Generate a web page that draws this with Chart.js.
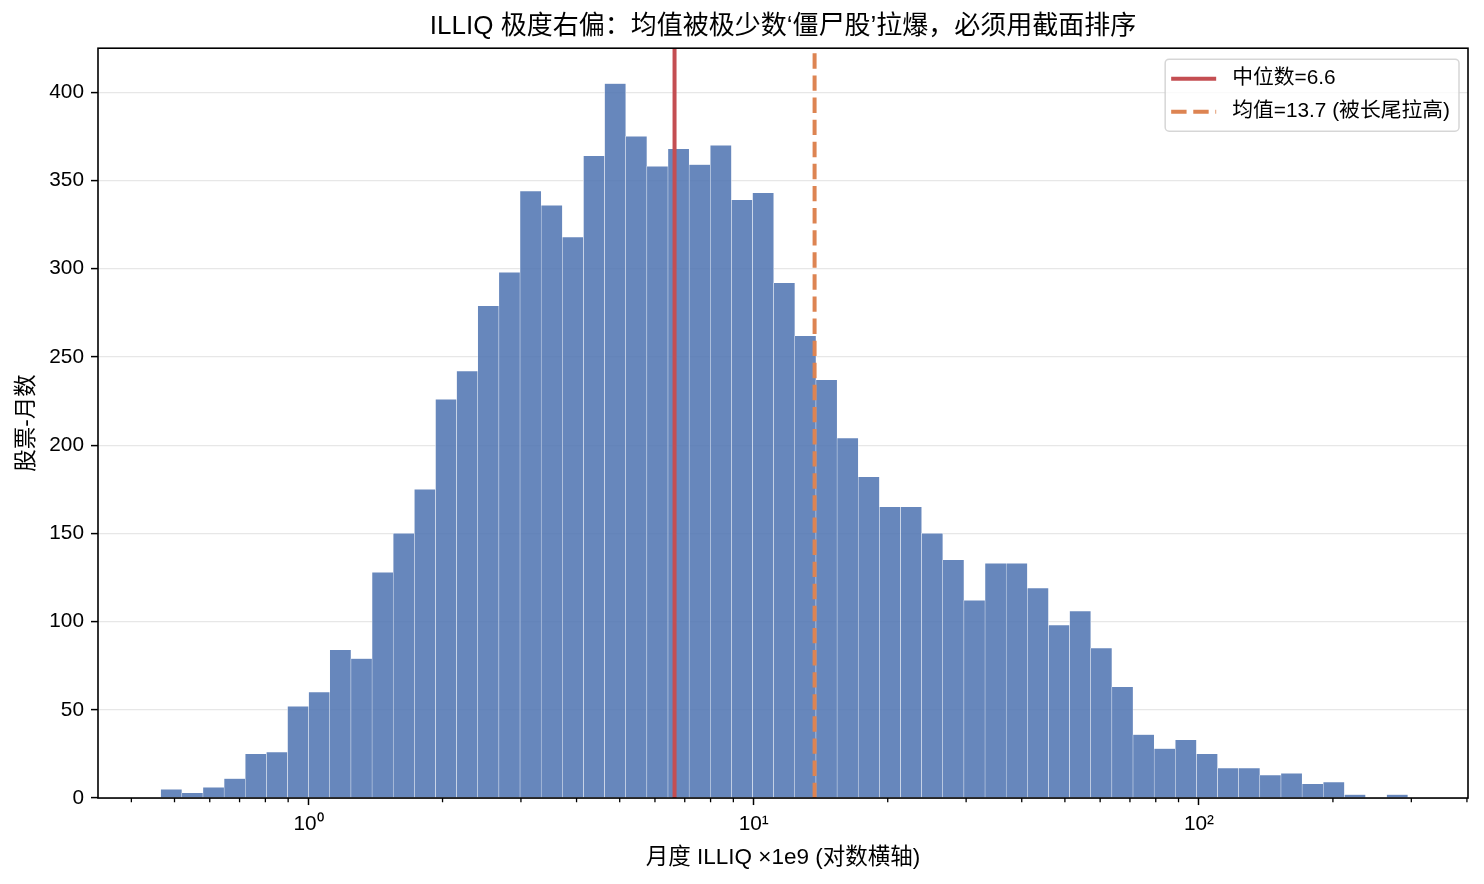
<!DOCTYPE html>
<html>
<head>
<meta charset="utf-8">
<title>ILLIQ 分布</title>
<script src="https://cdn.jsdelivr.net/npm/chart.js@4.4.1/dist/chart.umd.min.js"></script>
<style>
	html, body { margin: 0; padding: 0; background: #fff; }
	#wrap { width: 1484px; height: 884px; }
</style>
</head>
<body>
<div id="wrap"><canvas id="illiqChart"></canvas></div>
<script>
// histogram counts, 59 log-spaced bins, left to right
var binCounts = [5, 3, 6, 11, 25, 26, 52, 60, 84, 79,
	128, 150, 175, 226, 242, 279, 298,
	344, 336, 318, 364, 405, 375, 358, 368, 359, 370, 339, 343,
	292, 262, 237, 204, 182, 165, 165, 150, 135, 112, 133, 133, 119, 98, 106,
	85, 63, 36, 28, 33, 25, 17, 17, 13, 14, 8, 9, 2, 0, 2];
// outer edges of the histogram (ILLIQ x1e9)
var binRange = [0.4656, 294.6];
var medianVal = 6.64;
var meanVal = 13.7;

var xRange = [0.3366, 402.2];
var yMax = 425;
var majorTicks = [1, 10, 100];
var minorTicks = [0.4, 0.5, 0.6, 0.7, 0.8, 0.9, 2, 3, 4, 5, 6, 7, 8, 9,
	20, 30, 40, 50, 60, 70, 80, 90, 200, 300, 400];

var FONT = '"Liberation Sans", "Noto Sans CJK SC", sans-serif';
var SUP = {0: '\u2070', 1: '\u00b9', 2: '\u00b2'};

// bin centres (geometric middle of each log bin)
var logLo = Math.log10(binRange[0]);
var logStep = (Math.log10(binRange[1]) - logLo) / binCounts.length;
var barData = [];
binCounts.forEach(function(c, i){
	barData.push({x: Math.pow(10, logLo + (i + 0.5) * logStep), y: c});
});

// frame, minor ticks and the legend box (matplotlib style)
var framePlugin = {
	id: 'framePlugin',
	afterDraw: function(chart){
		var ctx = chart.ctx;
		var area = chart.chartArea;
		var xs = chart.scales.x;
		ctx.save();

		ctx.strokeStyle = '#000';
		ctx.lineWidth = 1.3;
		ctx.beginPath();
		minorTicks.forEach(function(v){
			var px = xs.getPixelForValue(v);
			ctx.moveTo(px, area.bottom);
			ctx.lineTo(px, area.bottom + 4.2);
		});
		ctx.stroke();

		ctx.lineWidth = 1.6;
		ctx.strokeRect(area.left, area.top, area.right - area.left, area.bottom - area.top);

		// legend
		var items = chart.data.datasets.filter(function(d){ return d.type === 'line'; });
		ctx.font = '20.8px ' + FONT;
		var maxW = 0;
		items.forEach(function(d){ maxW = Math.max(maxW, ctx.measureText(d.label).width); });
		var handleLen = 45, rowH = 33;
		var boxW = 6 + handleLen + 16 + maxW + 9;
		var boxH = 72;
		var bx = area.right - 9 - boxW;
		var by = area.top + 11;
		ctx.beginPath();
		ctx.roundRect(bx, by, boxW, boxH, 4);
		ctx.fillStyle = 'rgba(255,255,255,0.8)';
		ctx.fill();
		ctx.strokeStyle = 'rgba(204,204,204,0.8)';
		ctx.lineWidth = 1.5;
		ctx.stroke();

		items.forEach(function(d, i){
			var cy = by + 19.5 + i * rowH;
			ctx.beginPath();
			ctx.strokeStyle = d.borderColor;
			ctx.lineWidth = d.borderWidth;
			ctx.setLineDash(d.borderDash || []);
			ctx.moveTo(bx + 6, cy);
			ctx.lineTo(bx + 6 + handleLen, cy);
			ctx.stroke();
			ctx.setLineDash([]);
			ctx.fillStyle = '#000';
			ctx.textBaseline = 'middle';
			ctx.textAlign = 'left';
			ctx.fillText(d.label, bx + 6 + handleLen + 16, cy);
		});
		ctx.restore();
	}
};

Chart.defaults.font.family = FONT;
Chart.defaults.font.size = 20.8;
Chart.defaults.color = '#000';

var ctx = document.getElementById('illiqChart');
var myChart = new Chart(ctx, {
	type: 'bar',
	data: {
		datasets: [{
			type: 'line',
			label: '中位数=' + medianVal.toFixed(1),
			data: [{x: medianVal, y: 0}, {x: medianVal, y: yMax}],
			borderColor: '#C44E52',
			borderWidth: 4,
			pointRadius: 0,
			order: 0
		}, {
			type: 'line',
			label: '均值=' + meanVal.toFixed(1) + ' (被长尾拉高)',
			data: [{x: meanVal, y: 0}, {x: meanVal, y: yMax}],
			borderColor: '#DD8452',
			borderWidth: 4,
			borderDash: [15.4, 6.7],
			pointRadius: 0,
			order: 0
		}, {
			type: 'bar',
			label: '股票-月数',
			data: barData,
			backgroundColor: 'rgba(76,114,176,0.85)',
			borderColor: 'rgba(255,255,255,0.9)',
			borderWidth: 0.5,
			barPercentage: 1,
			categoryPercentage: 1,
			order: 1
		}]
	},
	options: {
		responsive: true,
		maintainAspectRatio: false,
		animation: false,
		layout: {padding: {left: 4, right: 16, top: 0, bottom: 3.5}},
		plugins: {
			legend: {display: false},
			tooltip: {enabled: false},
			title: {
				display: true,
				text: 'ILLIQ 极度右偏：均值被极少数‘僵尸股’拉爆，必须用截面排序',
				fullSize: false,
				font: {size: 26, weight: 'normal'},
				padding: {top: 11, bottom: 6}
			}
		},
		scales: {
			x: {
				type: 'logarithmic',
				min: xRange[0],
				max: xRange[1],
				bounds: 'data',
				offset: false,
				border: {display: false},
				grid: {display: true, offset: false, drawOnChartArea: false, tickLength: 7, tickWidth: 1.5, tickColor: '#000'},
				afterBuildTicks: function(scale){
					scale.ticks = majorTicks.map(function(v){ return {value: v}; });
				},
				ticks: {
					padding: 7,
					maxRotation: 0,
					autoSkip: false,
					callback: function(value){
						return '10' + SUP[Math.round(Math.log10(value))];
					}
				},
				title: {display: true, text: '月度 ILLIQ ×1e9 (对数横轴)', font: {size: 22.5}, padding: {top: 0, bottom: 9.5}}
			},
			y: {
				min: 0,
				max: yMax,
				z: 1,
				border: {display: false},
				grid: {color: 'rgba(176,176,176,0.3)', lineWidth: 1.2, tickLength: 7, tickWidth: 1.5, tickColor: '#000'},
				afterBuildTicks: function(scale){
					scale.ticks = scale.ticks.filter(function(t){ return t.value % 50 === 0; });
				},
				ticks: {stepSize: 50, padding: 7},
				title: {display: true, text: '股票-月数', font: {size: 22.5}, padding: {top: 9.5, bottom: 1.8}}
			}
		}
	},
	plugins: [framePlugin]
});
</script>
</body>
</html>
